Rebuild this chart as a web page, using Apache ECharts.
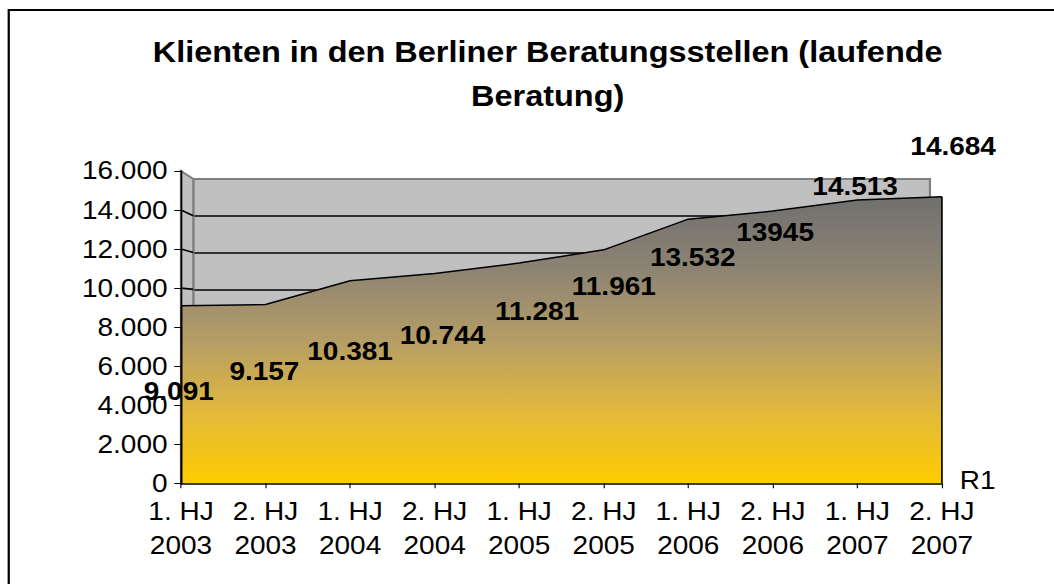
<!DOCTYPE html>
<html><head><meta charset="utf-8">
<script src="https://cdn.jsdelivr.net/npm/echarts@6/dist/echarts.min.js"></script>
<style>
html,body{margin:0;padding:0;background:#fff;overflow:hidden}
#c{width:941px;height:584px;transform:scaleX(1.12);transform-origin:0 0}
</style>
</head><body><div id="c"></div>
<script>
// ---- data ----
const titleText = 'Klienten in den Berliner Beratungsstellen (laufende\nBeratung)';
const categories = ['1. HJ\n2003','2. HJ\n2003','1. HJ\n2004','2. HJ\n2004','1. HJ\n2005','2. HJ\n2005','1. HJ\n2006','2. HJ\n2006','1. HJ\n2007','2. HJ\n2007'];
const values = [9091, 9157, 10381, 10744, 11281, 11961, 13532, 13945, 14513, 14684];
const valueLabels = ['9.091','9.157','10.381','10.744','11.281','11.961','13.532','13945','14.513','14.684'];
const yTicks = [0, 2000, 4000, 6000, 8000, 10000, 12000, 14000, 16000];
const yTickLabels = ['0','2.000','4.000','6.000','8.000','10.000','12.000','14.000','16.000'];
const seriesName = 'R1';

// ---- label placement (style, not data) ----
const labelOffsets = [[-2,86],[-1,67],[0,71],[7,62],[16,48],[9,37],[4,38],[2,21],[-2,-14],[10,-50]];

const FONT = '"Liberation Sans", Arial, sans-serif';
const chart = echarts.init(document.getElementById('c'), null, {renderer: 'svg'});

const option = {
  animation: false,
  backgroundColor: '#fff',
  title: {
    text: titleText,
    left: 484, top: 25, textAlign: 'center',
    textStyle: {fontFamily: FONT, fontWeight: 'bold', fontSize: 29, lineHeight: 44, color: '#000'}
  },
  grid: [
    {left: 161.6, right: 100, top: 171, bottom: 100.7},
    {left: 172.6, right: 110.7, top: 178.9, bottom: 110.5, show: true,
     backgroundColor: '#C0C0C0', borderColor: '#808080', borderWidth: 2, z: 0}
  ],
  xAxis: [
    {type: 'category', gridIndex: 0, data: categories, boundaryGap: false, z: 6,
     axisLine: {lineStyle: {color: '#000', width: 1.5}},
     axisTick: {show: true, length: 5, lineStyle: {color: '#000', width: 1}},
     axisLabel: {interval: 0, color: '#000', fontFamily: FONT, fontSize: 25, lineHeight: 34, margin: 11}},
    {type: 'category', gridIndex: 1, data: categories, boundaryGap: false, show: false}
  ],
  yAxis: [
    {type: 'value', gridIndex: 0, min: 0, max: 16000, interval: 2000, z: 6,
     axisLine: {show: true, lineStyle: {color: '#000', width: 1.5}},
     axisTick: {show: true, length: 6, lineStyle: {color: '#000', width: 1}},
     splitLine: {show: false},
     axisLabel: {color: '#000', fontFamily: FONT, fontSize: 25, margin: 12,
       formatter: v => yTickLabels[yTicks.indexOf(v)]}},
    {type: 'value', gridIndex: 1, min: 0, max: 16000, interval: 2000,
     axisLine: {show: false}, axisTick: {show: false}, axisLabel: {show: false},
     splitLine: {show: true, showMaxLine: false, showMinLine: false, lineStyle: {color: '#000', width: 1.6}}}
  ],
  series: [{
    name: seriesName,
    type: 'line', xAxisIndex: 0, yAxisIndex: 0, z: 3,
    symbol: 'circle', symbolSize: 1, showSymbol: true,
    itemStyle: {color: 'rgba(0,0,0,0)'},
    lineStyle: {color: '#000', width: 1.5},
    areaStyle: {opacity: 1, color: new echarts.graphic.LinearGradient(0, 0, 0, 1, [
      {offset: 0, color: '#707070'},
      {offset: 0.25, color: '#8c8373'},
      {offset: 0.5, color: '#b59d66'},
      {offset: 0.75, color: '#e2b93c'},
      {offset: 1, color: '#ffcc00'}])},
    label: {show: true, position: 'inside', color: '#000', fontFamily: FONT, fontWeight: 'bold', fontSize: 25},
    data: values.map((v, i) => ({value: v, label: {offset: labelOffsets[i], formatter: valueLabels[i]}})),
    markLine: {
      silent: true, symbol: ['none', 'none'], label: {show: false},
      lineStyle: {color: '#000', width: 1.5, type: 'solid'},
      data: [
        [{coord: [0, 0]}, {coord: [0, values[0]]}],
        [{coord: [values.length - 1, 0]}, {coord: [values.length - 1, values[values.length - 1]]}]
      ]
    }
  }]
};
chart.setOption(option);

// 3D side wall, slanted grid ticks, depth-axis name, outer frame
const f = v => chart.convertToPixel({xAxisIndex: 0, yAxisIndex: 0}, [0, v]);
const b = v => chart.convertToPixel({xAxisIndex: 1, yAxisIndex: 1}, [0, v]);
const last = chart.convertToPixel({xAxisIndex: 0, yAxisIndex: 0}, [values.length - 1, 0]);
const g = [];
g.push({type: 'polygon', z: 1, shape: {points: [f(16000), b(16000), b(0), f(0)]},
  style: {fill: '#C0C0C0', stroke: '#808080', lineWidth: 2}});
yTicks.filter(v => v > 0 && v < 16000).forEach(v => {
  const p = f(v), q = b(v);
  g.push({type: 'line', z: 2, shape: {x1: p[0], y1: p[1], x2: q[0], y2: q[1]}, style: {stroke: '#000', lineWidth: 1.6}});
});
g.push({type: 'text', z: 5, x: last[0] + 16, y: last[1] - 3,
  style: {text: seriesName, fill: '#000', font: '25px ' + FONT, verticalAlign: 'middle', align: 'left'}});
g.push({type: 'rect', z: 10, shape: {x: 7.8, y: 10, width: 2000, height: 2000},
  style: {fill: 'none', stroke: '#000', lineWidth: 2}});
chart.setOption({graphic: g});
</script>
</body></html>
